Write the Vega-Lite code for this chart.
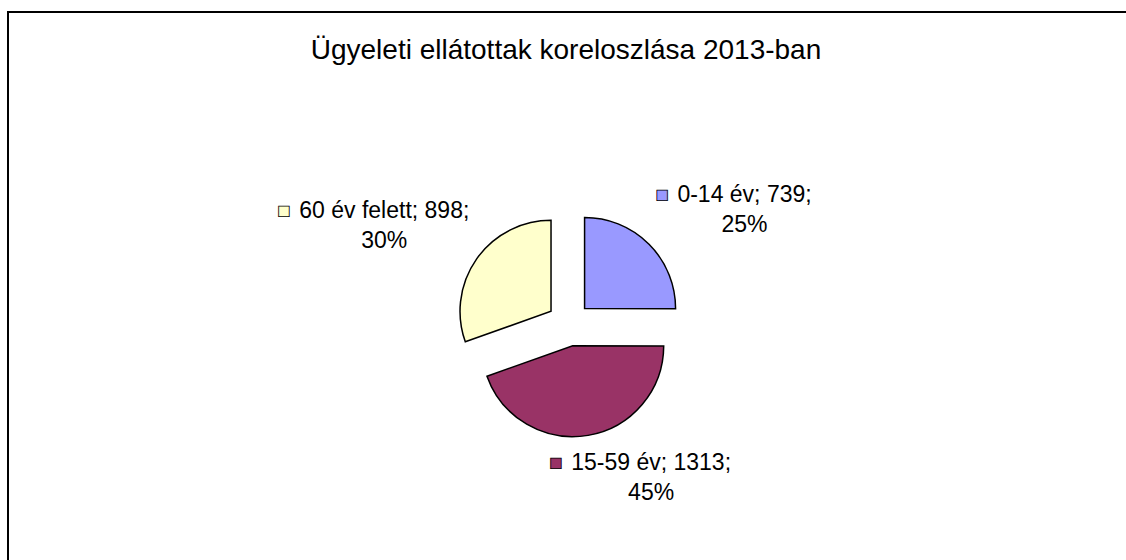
{
  "$schema": "https://vega.github.io/schema/vega-lite/v6.json",
  "width": 1120,
  "height": 550,
  "autosize": {"type": "none"},
  "padding": {"left": 8, "top": 12, "right": -2, "bottom": -2},
  "background": "white",
  "view": {"stroke": "black", "strokeWidth": 2, "fill": "white"},
  "config": {"view": {"stroke": "black", "strokeWidth": 2}, "style": {"cell": {"stroke": "black", "strokeWidth": 2}}},
  "title": {
    "text": "Ügyeleti ellátottak koreloszlása 2013-ban",
    "font": "Liberation Sans",
    "fontSize": 28,
    "fontWeight": "normal",
    "color": "black",
    "anchor": "middle",
    "frame": "group",
    "baseline": "alphabetic",
    "offset": -46,
    "dy": 29,
    "dx": -2
  },
  "data": {
    "values": [
      {"group": "0-14 év", "value": 739, "pct": 25},
      {"group": "15-59 év", "value": 1313, "pct": 45},
      {"group": "60 év felett", "value": 898, "pct": 30}
    ]
  },
  "encoding": {
    "theta": {"field": "value", "type": "quantitative", "stack": true}
  },
  "layer": [
    {
      "mark": {
        "type": "arc",
        "radius": 91,
        "stroke": "black",
        "strokeWidth": 1.5,
        "xOffset": {"expr": "1+22*sin(scale('theta',(datum.value_start+datum.value_end)/2))"},
        "yOffset": {"expr": "37-22*cos(scale('theta',(datum.value_start+datum.value_end)/2))"}
      },
      "encoding": {
        "color": {
          "field": "group",
          "type": "nominal",
          "scale": {"domain": ["0-14 év", "15-59 év", "60 év felett"], "range": ["#9999FF", "#993366", "#FFFFCC"]},
          "legend": null
        }
      }
    },
    {
      "mark": {
        "type": "text",
        "text": "■",
        "font": "Liberation Sans",
        "fontSize": 22,
        "radius": 122,
        "align": "left",
        "baseline": "alphabetic",
        "stroke": "black",
        "strokeWidth": 0.8,
        "xOffset": {"expr": "1+(((sin(scale('theta',(datum.value_start+datum.value_end)/2))>=0?1:-1)*min(1,3.3*abs(sin(scale('theta',(datum.value_start+datum.value_end)/2)))))-1)*(22+23*(0.556*length(datum.group)-0.278*length(replace(datum.group,regexp('[^ tf]','g'),''))-0.334*length(replace(datum.group,regexp('[^l]','g'),''))-0.223*length(replace(datum.group,regexp('[^-]','g'),''))-0.056*length(replace(datum.group,regexp('[^v]','g'),''))+0.834+0.556*length(''+datum.value)))/2"},
        "yOffset": {"expr": "37+(cos(scale('theta',(datum.value_start+datum.value_end)/2))>0?-36:26)"}
      },
      "encoding": {
        "color": {"field": "group", "type": "nominal", "legend": null}
      }
    },
    {
      "mark": {
        "type": "text",
        "text": {"expr": "datum.group + '; ' + datum.value + ';'"},
        "font": "Liberation Sans",
        "fontSize": 23,
        "color": "black",
        "radius": 122,
        "align": "left",
        "baseline": "alphabetic",
        "xOffset": {"expr": "23+(((sin(scale('theta',(datum.value_start+datum.value_end)/2))>=0?1:-1)*min(1,3.3*abs(sin(scale('theta',(datum.value_start+datum.value_end)/2)))))-1)*(22+23*(0.556*length(datum.group)-0.278*length(replace(datum.group,regexp('[^ tf]','g'),''))-0.334*length(replace(datum.group,regexp('[^l]','g'),''))-0.223*length(replace(datum.group,regexp('[^-]','g'),''))-0.056*length(replace(datum.group,regexp('[^v]','g'),''))+0.834+0.556*length(''+datum.value)))/2"},
        "yOffset": {"expr": "37+(cos(scale('theta',(datum.value_start+datum.value_end)/2))>0?-36:26)"}
      }
    },
    {
      "mark": {
        "type": "text",
        "text": {"expr": "datum.pct + '%'"},
        "font": "Liberation Sans",
        "fontSize": 23,
        "color": "black",
        "radius": 122,
        "align": "center",
        "baseline": "alphabetic",
        "xOffset": {"expr": "23+(((sin(scale('theta',(datum.value_start+datum.value_end)/2))>=0?1:-1)*min(1,3.3*abs(sin(scale('theta',(datum.value_start+datum.value_end)/2)))))-1)*(22+23*(0.556*length(datum.group)-0.278*length(replace(datum.group,regexp('[^ tf]','g'),''))-0.334*length(replace(datum.group,regexp('[^l]','g'),''))-0.223*length(replace(datum.group,regexp('[^-]','g'),''))-0.056*length(replace(datum.group,regexp('[^v]','g'),''))+0.834+0.556*length(''+datum.value)))/2+23*(0.556*length(datum.group)-0.278*length(replace(datum.group,regexp('[^ tf]','g'),''))-0.334*length(replace(datum.group,regexp('[^l]','g'),''))-0.223*length(replace(datum.group,regexp('[^-]','g'),''))-0.056*length(replace(datum.group,regexp('[^v]','g'),''))+0.834+0.556*length(''+datum.value))/2"},
        "yOffset": {"expr": "37+(cos(scale('theta',(datum.value_start+datum.value_end)/2))>0?-6:56)"}
      }
    }
  ]
}
